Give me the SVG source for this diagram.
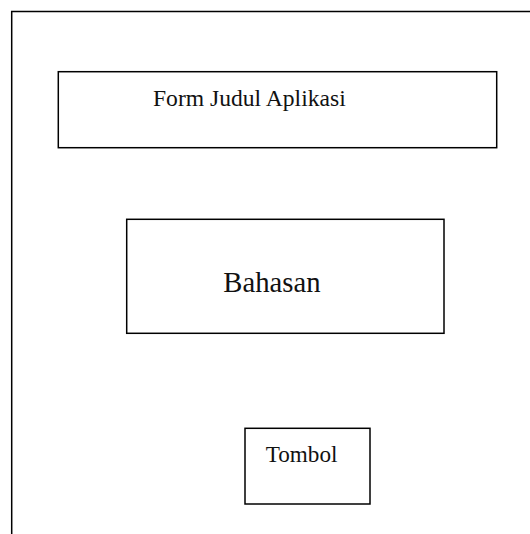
<svg xmlns="http://www.w3.org/2000/svg" width="530" height="534" viewBox="0 0 530 534">
<style>
.box{fill:none;stroke:#000;stroke-width:1.5}
.lbl{font-family:"Liberation Serif","Times New Roman",serif;fill:#111}
</style>
<rect width="530" height="534" fill="#fff"/>
<g id="frame">
<path class="box" d="M11.7,534 V11.5 H530"/>
</g>
<g id="node-judul">
<rect class="box" x="58.3" y="71.7" width="438.4" height="76"/>
<text class="lbl" x="153" y="106" font-size="23.6">Form Judul Aplikasi</text>
</g>
<g id="node-bahasan">
<rect class="box" x="126.7" y="219.3" width="317.3" height="114"/>
<text class="lbl" x="223.3" y="291.7" font-size="28.7">Bahasan</text>
</g>
<g id="node-tombol">
<rect class="box" x="245" y="428.3" width="125" height="75.7"/>
<text class="lbl" x="265.7" y="462.3" font-size="23.2">Tombol</text>
</g>
<g id="connectors"></g>
</svg>
